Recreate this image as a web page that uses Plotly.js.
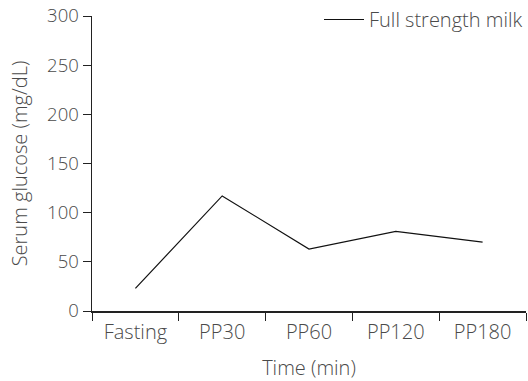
<!DOCTYPE html>
<html>
<head>
<meta charset="utf-8">
<script src="https://cdn.plot.ly/plotly-3.0.1.min.js"></script>
<style>html,body{margin:0;padding:0;background:#fff;}#chart{width:528px;height:381px;}</style>
</head>
<body>
<div id="chart"></div>
<script>
const categories = ["Fasting", "PP30", "PP60", "PP120", "PP180"];
const fullStrengthMilk = [23, 117, 63, 81, 70];
const seriesName = "Full strength milk";
const yTicks = [0, 50, 100, 150, 200, 250, 300];

const fontFamily = "'Open Sans', Roboto, sans-serif";
const textColor = "#4a4a4a";
const fnt = {family: fontFamily, size: 20, color: textColor, weight: 300};
const yTickFnt = {family: fontFamily, size: 18.5, color: textColor, weight: 300};

const trace = {
  x: categories,
  y: fullStrengthMilk,
  type: "scatter",
  mode: "lines",
  name: seriesName,
  line: {color: "#111", width: 1.2},
  showlegend: true
};

const layout = {
  width: 528,
  height: 381,
  margin: {l: 92, r: 2, t: 16, b: 70, autoexpand: false},
  paper_bgcolor: "#fff",
  plot_bgcolor: "#fff",
  font: fnt,
  showlegend: true,
  legend: {
    xref: "container", yref: "container",
    x: 1.0, xanchor: "right", y: 1.0, yanchor: "top",
    bgcolor: "rgba(0,0,0,0)",
    font: fnt,
    itemwidth: 40
  },
  xaxis: {
    type: "category",
    range: [-0.5, 4.5],
    tickson: "boundaries",
    ticks: "outside",
    ticklen: 8,
    tickcolor: "#222",
    showline: true,
    linecolor: "#222",
    linewidth: 1.5,
    showgrid: false,
    zeroline: false,
    tickfont: fnt,
    ticklabelstandoff: 2,
    title: {text: "Time (min)", font: fnt, standoff: 17}
  },
  yaxis: {
    range: [0, 300],
    tickvals: yTicks,
    ticks: "outside",
    ticklen: 8,
    tickcolor: "#222",
    showline: true,
    linecolor: "#222",
    linewidth: 1.5,
    showgrid: false,
    zeroline: false,
    tickfont: yTickFnt,
    title: {text: "Serum glucose (mg/dL)", font: fnt, standoff: 14}
  }
};

Plotly.newPlot("chart", [trace], layout, {displayModeBar: false, staticPlot: true});
</script>
</body>
</html>
